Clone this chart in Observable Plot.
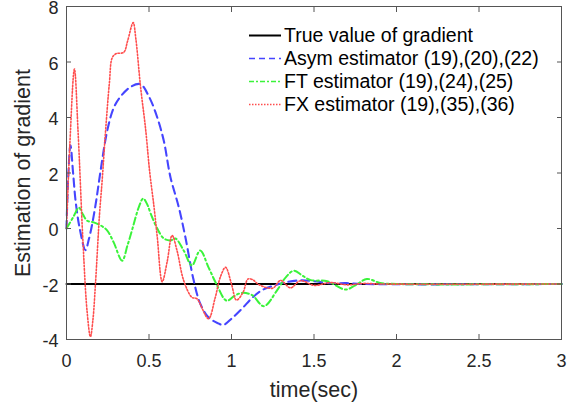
<!DOCTYPE html>
<html><head><meta charset="utf-8">
<script src="https://cdn.jsdelivr.net/npm/d3@7"></script>
<script src="https://cdn.jsdelivr.net/npm/@observablehq/plot@0.6"></script>
<style>
body{margin:0;background:#fff;}
#wrap{position:relative;width:576px;height:405px;font-family:"Liberation Sans",Arial,sans-serif;}
#legend{position:absolute;left:0;top:0;}
</style></head><body><div id="wrap"></div>
<script>
const xTicks = [0, 0.5, 1, 1.5, 2, 2.5, 3];
const yTicks = [-4, -2, 0, 2, 4, 6, 8];

const trueT = [0, 3];
const trueY = [-2, -2];

const asymT = [0, 0.01, 0.024, 0.04, 0.055, 0.08, 0.115, 0.135, 0.156, 0.18, 0.206, 0.246, 0.286, 0.327, 0.388, 0.448, 0.5, 0.55, 0.59, 0.63, 0.68, 0.72, 0.77, 0.81, 0.86, 0.92, 0.95, 1.0, 1.065, 1.125, 1.186, 1.25, 1.327, 1.418, 1.5, 1.6, 1.7, 1.8, 3];
const asymY = [0, 1.8, 3.0, 2.0, 1.0, 0.0, -0.78, -0.4, 0.17, 1.0, 2.06, 3.5, 4.35, 4.75, 5.1, 5.2, 4.75, 4.0, 3.15, 1.85, 0.78, -0.3, -1.85, -2.7, -3.2, -3.42, -3.48, -3.25, -2.88, -2.5, -2.22, -2.07, -1.94, -1.87, -1.9, -1.97, -1.97, -2.0, -2.0];

const ftT = [0, 0.04, 0.075, 0.1, 0.125, 0.165, 0.21, 0.246, 0.286, 0.337, 0.37, 0.4, 0.44, 0.465, 0.49, 0.51, 0.55, 0.59, 0.63, 0.66, 0.71, 0.76, 0.81, 0.86, 0.91, 0.97, 1.02, 1.065, 1.125, 1.196, 1.277, 1.33, 1.378, 1.43, 1.48, 1.58, 1.69, 1.75, 1.82, 1.9, 2.0, 3];
const ftY = [0, 0.4, 0.75, 0.5, 0.28, 0.22, 0.1, -0.07, -0.5, -1.16, -0.6, 0.0, 0.8, 1.08, 0.86, 0.54, 0.0, -0.36, -0.43, -0.36, -0.79, -1.33, -0.79, -1.39, -2.02, -2.6, -2.42, -2.32, -2.4, -2.8, -2.22, -1.75, -1.52, -1.7, -1.86, -1.9, -2.2, -2.05, -1.82, -1.96, -2.0, -2.0];

const fxT = [0, 0.02, 0.048, 0.07, 0.1, 0.125, 0.145, 0.16, 0.176, 0.2, 0.216, 0.236, 0.26, 0.277, 0.3, 0.347, 0.37, 0.404, 0.42, 0.448, 0.48, 0.504, 0.53, 0.55, 0.58, 0.61, 0.64, 0.67, 0.71, 0.76, 0.79, 0.86, 0.9, 0.933, 0.964, 1.0, 1.03, 1.07, 1.10, 1.13, 1.165, 1.25, 1.297, 1.357, 1.418, 1.5, 1.6, 1.7, 1.8, 1.9, 3];
const fxY = [0, 3.0, 5.75, 3.5, -0.5, -3.0, -3.9, -3.3, -1.95, 0.5, 1.72, 3.45, 5.25, 6.15, 6.3, 6.35, 6.75, 7.42, 6.85, 5.15, 3.55, 2.05, 0.8, -0.3, -1.92, -1.2, -0.25, -0.8, -1.87, -2.48, -2.53, -3.25, -2.52, -1.74, -1.4, -2.0, -2.58, -2.3, -1.82, -1.85, -2.02, -2.15, -1.87, -2.14, -1.88, -2.05, -1.95, -2.03, -1.98, -2.0, -2.0];

const seriesNames = ["True value of gradient", "Asym estimator (19),(20),(22)", "FT estimator (19),(24),(25)", "FX estimator (19),(35),(36)"];
const seriesColors = ["#000000", "#4545ff", "#3af33a", "#ff4d4d"];

const toRows = (T, Y) => T.map((t, i) => ({t, v: Y[i]}));
const fontFamily = '"Liberation Sans", Arial, Helvetica, sans-serif';
const axisColor = "#262626";
const fmt = d => String(d);

const chart = Plot.plot({
  width: 576,
  height: 405,
  marginLeft: 66,
  marginRight: 15,
  marginTop: 6,
  marginBottom: 66,
  x: {domain: [0, 3]},
  y: {domain: [-4, 8]},
  style: {fontFamily, fontSize: "18px", color: axisColor, background: "#fff", overflow: "visible"},
  marks: [
    Plot.line(toRows(trueT, trueY), {x: "t", y: "v", stroke: seriesColors[0], strokeWidth: 2}),
    Plot.line(toRows(asymT, asymY), {x: "t", y: "v", stroke: seriesColors[1], strokeWidth: 2.1, strokeDasharray: "8,5", curve: "catmull-rom"}),
    Plot.line(toRows(ftT, ftY), {x: "t", y: "v", stroke: seriesColors[2], strokeWidth: 2, strokeDasharray: "7,3,2,3", curve: "catmull-rom"}),
    Plot.line(toRows(fxT, fxY), {x: "t", y: "v", stroke: seriesColors[3], strokeWidth: 1.6, strokeDasharray: "1.5,1.8", curve: "catmull-rom"}),
    Plot.frame({stroke: "#555", strokeWidth: 1}),
    Plot.axisX(xTicks, {anchor: "bottom", tickSize: 0, tickPadding: 15, fontSize: 18, tickFormat: fmt, label: "time(sec)", labelAnchor: "center", labelOffset: 57, labelArrow: "none"}),
    Plot.axisX(xTicks, {anchor: "bottom", tickSize: -5, tickFormat: () => "", label: null, stroke: "#555"}),
    Plot.axisX(xTicks, {anchor: "top", tickSize: -5, tickFormat: () => "", label: null, stroke: "#555"}),
    Plot.axisY(yTicks, {anchor: "left", tickSize: 0, tickPadding: 8, dy: 2, fontSize: 18, tickFormat: fmt, label: "Estimation of gradient", labelAnchor: "center", labelOffset: 52, labelArrow: "none"}),
    Plot.axisY(yTicks, {anchor: "left", tickSize: -5, tickFormat: () => "", label: null, stroke: "#555"}),
    Plot.axisY(yTicks, {anchor: "right", tickSize: -5, tickFormat: () => "", label: null, stroke: "#555"})
  ]
});
const wrap = document.getElementById("wrap");
wrap.appendChild(chart);
d3.select(chart).selectAll("[aria-label='x-axis label'], [aria-label='y-axis label']").attr("font-size", 21.5);
d3.select(chart).selectAll("[aria-label='x-axis label'] text, [aria-label='y-axis label'] text").style("font-size", "21.5px");

// legend overlay
const dashes = [null, "6,4", "5,2,2,2", "1.5,1.5"];
const widths = [2, 1.6, 1.6, 1.4];
const legend = d3.select(wrap).append("svg").attr("id", "legend").attr("width", 576).attr("height", 405)
  .style("pointer-events", "none");
seriesNames.forEach((name, i) => {
  const y = 35.5 + i * 23;
  legend.append("line").attr("x1", 249).attr("x2", 281).attr("y1", y).attr("y2", y)
    .attr("stroke", seriesColors[i]).attr("stroke-width", widths[i]).attr("stroke-dasharray", dashes[i]);
  legend.append("text").attr("x", 284).attr("y", y).attr("dy", "0.35em")
    .attr("font-family", fontFamily).attr("font-size", 19.5).attr("fill", "#000").text(name);
});
</script></body></html>
